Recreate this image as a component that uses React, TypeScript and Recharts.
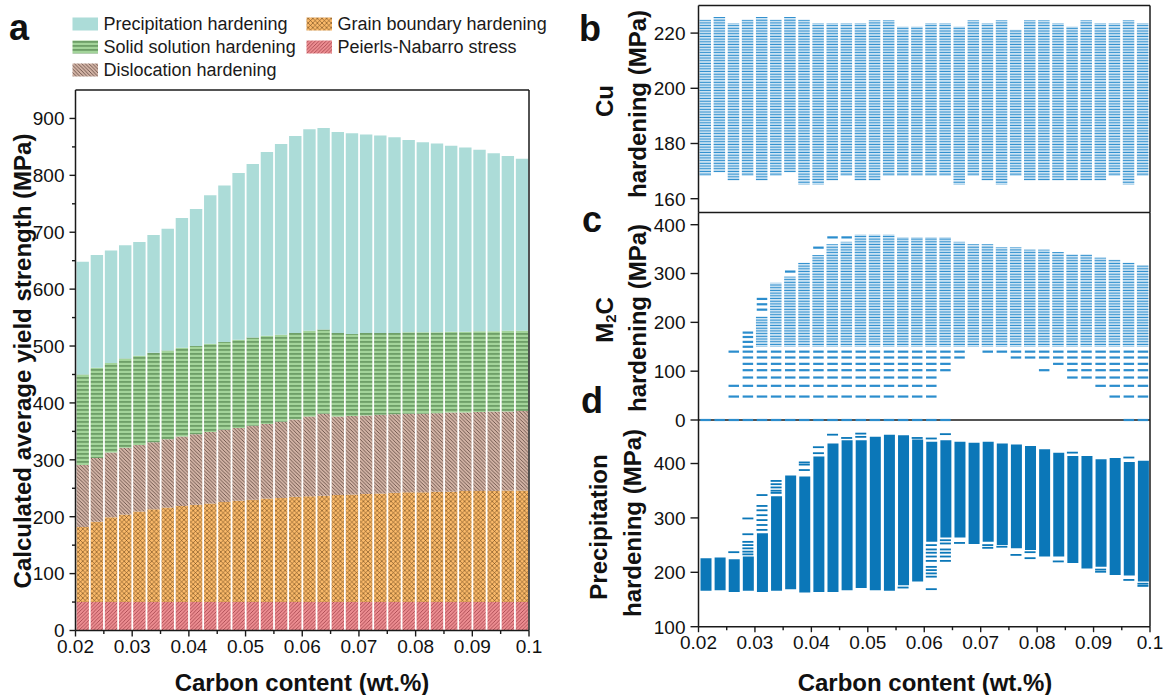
import React from 'react';
import {
  BarChart,
  Bar,
  ComposedChart,
  Scatter,
  XAxis,
  YAxis,
  ReferenceLine,
} from 'recharts';

const FONT = "'Liberation Sans', Arial, Helvetica, sans-serif";
const AXIS = '#1a1a1a';

// bar centres, one bar per 0.0025 wt.% C
const CARBON = [
  0.02125, 0.02375, 0.02625, 0.02875, 0.03125, 0.03375, 0.03625, 0.03875,
  0.04125, 0.04375, 0.04625, 0.04875, 0.05125, 0.05375, 0.05625, 0.05875,
  0.06125, 0.06375, 0.06625, 0.06875, 0.07125, 0.07375, 0.07625, 0.07875,
  0.08125, 0.08375, 0.08625, 0.08875, 0.09125, 0.09375, 0.09625, 0.09875,
];
const X_MAJOR = [0.02, 0.03, 0.04, 0.05, 0.06, 0.07, 0.08, 0.09, 0.1];
const X_MINOR = [0.025, 0.035, 0.045, 0.055, 0.065, 0.075, 0.085, 0.095];

// (a) strengthening contributions, MPa
const PEIERLS = [
  50, 50, 50, 50, 50, 50, 50, 50, 50, 50, 50, 50, 50, 50, 50, 50,
  50, 50, 50, 50, 50, 50, 50, 50, 50, 50, 50, 50, 50, 50, 50, 50,
];
const GRAIN = [
  132, 141, 149, 154, 159, 163, 166, 169, 171, 173, 176, 178, 180, 182, 183, 185,
  186, 187, 188, 189, 190, 191, 192, 193, 193, 194, 194, 195, 195, 195, 196, 196,
];
const DISLOC = [
  109, 112, 114, 117, 117, 118, 120, 122, 124, 126, 127, 128, 130, 131, 134, 136,
  140, 144, 138, 138, 138, 138, 138, 138, 138, 138, 139, 138, 139, 140, 139, 140,
];
const SOLID = [
  159, 159, 157, 157, 157, 157, 156, 156, 155, 155, 154, 155, 155, 155, 153, 152,
  151, 148, 147, 144, 145, 144, 143, 143, 143, 142, 142, 142, 142, 141, 142, 141,
];
const PRECIP = [
  198, 198, 198, 199, 200, 207, 214, 228, 241, 261, 275, 293, 305, 323, 335, 346,
  354, 354, 353, 353, 349, 347, 344, 338, 334, 332, 327, 324, 319, 313, 307, 302,
];
const A_Y_MAJOR = [0, 100, 200, 300, 400, 500, 600, 700, 800, 900];
const A_Y_MINOR = [50, 150, 250, 350, 450, 550, 650, 750, 850];

// (b) Cu hardening spread per composition
const CU_LOW = [
  168.2, 169.6, 166.6, 168.2, 166.6, 168.2, 169.6, 165.1, 165.1, 166.6, 168.2, 166.6,
  166.6, 168.2, 168.2, 168.2, 168.2, 168.2, 165.1, 168.2, 166.6, 165.1, 168.2, 166.6,
  166.6, 166.6, 166.6, 166.6, 166.6, 168.2, 165.1, 168.2,
];
const CU_HIGH = [
  224.8, 225.8, 223.6, 224.8, 225.8, 224.8, 225.8, 224.8, 223.6, 223.6, 223.6, 223.6,
  224.7, 224.7, 222.4, 222.4, 223.6, 223.6, 222.4, 224.7, 223.6, 224.7, 221.2, 224.7,
  224.7, 223.6, 222.4, 224.7, 223.6, 223.6, 224.7, 223.6,
];
const B_Y_TICKS = [160, 180, 200, 220];

// (c) M2C hardening: densely sampled band plus isolated levels
const M2C_LOW = [
  null, null, null, null, 150, 150, 150, 150, 150, 150, 150, 150, 150, 150, 150, 150,
  150, 150, 150, 150, 150, 150, 150, 150, 150, 150, 150, 150, 150, 150, 150, 150,
];
const M2C_HIGH = [
  null, null, null, null, 212, 281, 294, 322, 338, 360, 365, 380, 380, 380, 375, 375,
  375, 375, 365, 360, 360, 354, 354, 349, 349, 344, 339, 339, 333, 328, 322, 317,
];
const M2C_SPARSE = [
  [0],
  [0],
  [140, 70, 48, 0],
  [179, 170, 160, 150, 140, 128, 115, 102, 87, 70, 48, 0],
  [248, 237, 226, 140, 128, 115, 102, 87, 70, 48, 0],
  [140, 128, 115, 102, 87, 70, 48, 0],
  [304, 140, 128, 115, 102, 87, 70, 48, 0],
  [140, 128, 115, 102, 87, 70, 48, 0],
  [353, 140, 128, 115, 102, 87, 70, 48, 0],
  [374, 140, 128, 115, 102, 87, 70, 48, 0],
  [374, 140, 128, 115, 102, 87, 70, 48, 0],
  [140, 128, 115, 102, 87, 70, 48, 0],
  [140, 128, 115, 102, 87, 70, 48, 0],
  [140, 128, 115, 102, 87, 70, 48, 0],
  [140, 128, 115, 102, 87, 70, 48, 0],
  [140, 128, 115, 102, 87, 70, 48, 0],
  [140, 128, 115, 102, 87, 70, 48, 0],
  [140, 128, 115, 102, 0],
  [140, 128],
  [],
  [140],
  [140],
  [140, 128],
  [140, 128],
  [140, 128, 102],
  [140, 128, 115],
  [140, 128, 115, 102, 87],
  [140, 128, 115, 102, 87],
  [140, 128, 115, 102, 87, 70],
  [140, 128, 115, 102, 87, 70, 48],
  [140, 128, 115, 102, 87, 70, 48, 0],
  [140, 128, 115, 102, 87, 70, 48, 0],
];
const C_Y_TICKS = [0, 100, 200, 300, 400];

// (d) total precipitation hardening: filled band plus stray values
const PH_LOW = [
  166, 167, 164, 166, 164, 166, 169, 163, 164, 164, 167, 171, 167, 166, 176, 183,
  256, 264, 264, 252, 256, 250, 244, 241, 229, 229, 217, 207, 210, 195, 194, 183,
];
const PH_HIGH = [
  226, 227, 224, 229, 272, 340, 378, 376, 413, 437, 443, 443, 449, 453, 452, 444,
  440, 443, 440, 438, 440, 437, 435, 432, 426, 420, 414, 414, 408, 410, 403, 405,
];
const PH_EXTRA = [
  [],
  [],
  [237],
  [299, 270, 256, 250, 244, 238, 233],
  [342, 322, 314, 305, 296, 287, 278],
  [368, 362, 356, 350, 346],
  [],
  [402, 398, 388],
  [430, 419],
  [453],
  [447],
  [455, 449],
  [],
  [],
  [172],
  [447],
  [446, 250, 242, 236, 229, 221, 210, 204, 198, 192, 169],
  [454, 259, 253, 242, 236, 229, 221],
  [254],
  [],
  [250, 245],
  [247],
  [232],
  [237, 226],
  [],
  [220],
  [420],
  [],
  [205, 201],
  [],
  [411, 186],
  [179, 175],
];
const D_Y_TICKS = [100, 200, 300, 400];

const aRows = CARBON.map((x, i) => ({
  x,
  peierls: PEIERLS[i],
  grain: GRAIN[i],
  disloc: DISLOC[i],
  solid: SOLID[i],
  precip: PRECIP[i],
}));
const bRows = CARBON.map((x, i) => ({ x, range: [CU_LOW[i], CU_HIGH[i]] }));
const cRows = CARBON.map((x, i) => ({
  x,
  range: M2C_LOW[i] == null ? null : [M2C_LOW[i], M2C_HIGH[i]],
}));
const cPoints = CARBON.flatMap((x, i) => M2C_SPARSE[i].map((y) => ({ x, y })));
const dRows = CARBON.map((x, i) => ({ x, range: [PH_LOW[i], PH_HIGH[i]] }));
const dPoints = CARBON.flatMap((x, i) => PH_EXTRA[i].map((y) => ({ x, y })));

const BLUE_DASH = '#2b8dcd';
const BLUE_FILL = '#0b77b8';

// hatch fills shared by the bars and the legend swatches
function Hatches({ prefix }: { prefix: string }) {
  return (
    <defs>
      <pattern id={`${prefix}-ss`} patternUnits="userSpaceOnUse" width={6} height={4}>
        <rect width={6} height={4} fill="#a3d49a" />
        <rect y={1.4} width={6} height={1.1} fill="#4b7c47" />
      </pattern>
      <pattern id={`${prefix}-dis`} patternUnits="userSpaceOnUse" width={3.6} height={3.6}>
        <rect width={3.6} height={3.6} fill="#d2b3a5" />
        <path d="M0,0 L3.6,3.6 M-1,2.6 L1,4.6 M2.6,-1 L4.6,1" stroke="#4a342c" strokeWidth={0.7} />
      </pattern>
      <pattern id={`${prefix}-gb`} patternUnits="userSpaceOnUse" width={4.6} height={4.6}>
        <rect width={4.6} height={4.6} fill="#fbba6a" />
        <path d="M0,0 L4.6,4.6 M4.6,0 L0,4.6" stroke="#6a451c" strokeWidth={0.6} />
      </pattern>
      <pattern id={`${prefix}-pn`} patternUnits="userSpaceOnUse" width={3.6} height={3.6}>
        <rect width={3.6} height={3.6} fill="#ec8d91" />
        <path d="M0,3.6 L3.6,0 M-1,1 L1,-1 M2.6,4.6 L4.6,2.6" stroke="#9a3a43" strokeWidth={0.75} />
      </pattern>
      <pattern id={`${prefix}-stripe`} patternUnits="userSpaceOnUse" width={20} height={2.7}>
        <rect y={0.6} width={20} height={1.4} fill={BLUE_DASH} />
      </pattern>
    </defs>
  );
}

const yTick = (majors: number[], len: number, minorLen: number) => (p: any) => {
  const v = p.payload.value;
  const major = majors.includes(v);
  return (
    <g>
      <line x1={p.x} x2={p.x - (major ? len : minorLen)} y1={p.y} y2={p.y} stroke={AXIS} strokeWidth={1.4} />
      {major && (
        <text x={p.x - len - 5} y={p.y} dy={6.8} textAnchor="end" fontSize={19} fontFamily={FONT} fill="#111">
          {v}
        </text>
      )}
    </g>
  );
};

const xTick = (majors: number[], len: number, minorLen: number) => (p: any) => {
  const v = p.payload.value;
  const major = majors.includes(v);
  return (
    <g>
      <line x1={p.x} x2={p.x} y1={p.y} y2={p.y + (major ? len : minorLen)} stroke={AXIS} strokeWidth={1.4} />
      {major && (
        <text x={p.x} y={p.y + 22} textAnchor="middle" fontSize={19} fontFamily={FONT} fill="#111">
          {String(v)}
        </text>
      )}
    </g>
  );
};

const dash = (w: number, h: number, color: string) => (p: any) => (
  <rect x={p.cx - w / 2} y={p.cy - h / 2} width={w} height={h} fill={color} />
);

const frame = { stroke: AXIS, strokeWidth: 1.5 };

function PanelA() {
  return (
    <BarChart width={545} height={695} data={aRows} margin={{ top: 90, right: 16, bottom: 0, left: 0 }}>
      <Hatches prefix="a" />
      <XAxis
        dataKey="x"
        type="number"
        domain={[0.02, 0.1]}
        allowDataOverflow
        ticks={[...X_MAJOR, ...X_MINOR]}
        interval={0}
        tick={xTick(X_MAJOR, 6, 3.5)}
        tickLine={false}
        tickSize={0}
        tickMargin={0}
        height={64.5}
        axisLine={frame}
      />
      <YAxis
        type="number"
        domain={[0, 950]}
        allowDataOverflow
        ticks={[...A_Y_MAJOR, ...A_Y_MINOR]}
        interval={0}
        tick={yTick(A_Y_MAJOR, 6, 3.5)}
        tickLine={false}
        tickSize={0}
        tickMargin={0}
        width={75.5}
        axisLine={frame}
      />
      <Bar dataKey="peierls" stackId="s" barSize={12.4} fill="url(#a-pn)" isAnimationActive={false} />
      <Bar dataKey="grain" stackId="s" barSize={12.4} fill="url(#a-gb)" isAnimationActive={false} />
      <Bar dataKey="disloc" stackId="s" barSize={12.4} fill="url(#a-dis)" isAnimationActive={false} />
      <Bar dataKey="solid" stackId="s" barSize={12.4} fill="url(#a-ss)" isAnimationActive={false} />
      <Bar dataKey="precip" stackId="s" barSize={12.4} fill="#acdcd8" isAnimationActive={false} />
      <ReferenceLine y={950} {...frame} />
      <ReferenceLine x={0.1} {...frame} />
    </BarChart>
  );
}

function PanelB() {
  return (
    <ComposedChart width={605} height={220} data={bRows} margin={{ top: 5.5, right: 15, bottom: 7.5, left: 0 }}>
      <Hatches prefix="b" />
      <XAxis dataKey="x" type="number" domain={[0.02, 0.1]} allowDataOverflow hide />
      <YAxis
        type="number"
        domain={[155, 230]}
        allowDataOverflow
        ticks={B_Y_TICKS}
        interval={0}
        tick={yTick(B_Y_TICKS, 8, 0)}
        tickLine={false}
        tickSize={0}
        tickMargin={0}
        width={138.5}
        axisLine={frame}
      />
      <Bar dataKey="range" barSize={11.5} fill="url(#b-stripe)" isAnimationActive={false} />
      <ReferenceLine y={230} {...frame} />
      <ReferenceLine y={155} {...frame} />
      <ReferenceLine x={0.1} {...frame} />
    </ComposedChart>
  );
}

function PanelC() {
  return (
    <ComposedChart width={605} height={240} data={cRows} margin={{ top: 12.5, right: 15, bottom: 20, left: 0 }}>
      <Hatches prefix="c" />
      <XAxis dataKey="x" type="number" domain={[0.02, 0.1]} hide />
      <YAxis
        type="number"
        domain={[0, 425]}
        ticks={C_Y_TICKS}
        interval={0}
        tick={yTick(C_Y_TICKS, 8, 0)}
        tickLine={false}
        tickSize={0}
        tickMargin={0}
        width={138.5}
        axisLine={frame}
      />
      <ReferenceLine y={0} {...frame} />
      <ReferenceLine x={0.1} {...frame} />
      <Bar dataKey="range" barSize={11.5} fill="url(#c-stripe)" isAnimationActive={false} />
      <Scatter data={cPoints} dataKey="y" shape={dash(10.5, 2.2, BLUE_DASH)} isAnimationActive={false} />
    </ComposedChart>
  );
}

function PanelD() {
  // the top edge is shared with the zero line of panel c
  return (
    <ComposedChart width={605} height={295} data={dRows} margin={{ top: 20, right: 15, bottom: 0, left: 0 }}>
      <XAxis
        dataKey="x"
        type="number"
        domain={[0.02, 0.1]}
        allowDataOverflow
        ticks={[...X_MAJOR, ...X_MINOR]}
        interval={0}
        tick={xTick(X_MAJOR, 5.5, 3.5)}
        tickLine={false}
        tickSize={0}
        tickMargin={0}
        height={68.3}
        axisLine={frame}
      />
      <YAxis
        type="number"
        domain={[100, 480]}
        allowDataOverflow
        ticks={D_Y_TICKS}
        interval={0}
        tick={yTick(D_Y_TICKS, 8, 0)}
        tickLine={false}
        tickSize={0}
        tickMargin={0}
        width={138.5}
        axisLine={frame}
      />
      <Bar dataKey="range" barSize={11} fill={BLUE_FILL} isAnimationActive={false} />
      <Scatter data={dPoints} dataKey="y" shape={dash(11, 1.8, BLUE_FILL)} isAnimationActive={false} />
      <ReferenceLine x={0.1} {...frame} />
    </ComposedChart>
  );
}

const LEGEND = [
  { label: 'Precipitation hardening', fill: '#acdcd8', x: 72.5, y: 17.5 },
  { label: 'Solid solution hardening', fill: 'url(#lg-ss)', x: 72.5, y: 40.5 },
  { label: 'Dislocation hardening', fill: 'url(#lg-dis)', x: 72.5, y: 63.5 },
  { label: 'Grain boundary hardening', fill: 'url(#lg-gb)', x: 306.5, y: 17.5 },
  { label: 'Peierls-Nabarro stress', fill: 'url(#lg-pn)', x: 306.5, y: 40.5 },
];

const bold = { fontFamily: FONT, fontWeight: 700, fill: '#111' } as const;

function Overlay() {
  const vLabel = (x: number, y: number, text: React.ReactNode) => (
    <text transform={`translate(${x},${y}) rotate(-90)`} textAnchor="middle" fontSize={24} {...bold}>
      {text}
    </text>
  );
  return (
    <svg width={1165} height={695} style={{ position: 'absolute', left: 0, top: 0, pointerEvents: 'none' }}>
      <Hatches prefix="lg" />
      {LEGEND.map((l) => (
        <g key={l.label}>
          <rect x={l.x} y={l.y} width={25.5} height={13} fill={l.fill} />
          <text x={l.x + 31} y={l.y + 12} fontSize={18} fontFamily={FONT} fill="#1a1a1a">
            {l.label}
          </text>
        </g>
      ))}
      <text x={9} y={40} fontSize={36} {...bold}>a</text>
      <text x={579} y={41} fontSize={36} {...bold}>b</text>
      <text x={582} y={232} fontSize={36} {...bold}>c</text>
      <text x={581} y={413} fontSize={36} {...bold}>d</text>
      {vLabel(30.5, 361, 'Calculated average yield strength (MPa)')}
      <text x={302} y={691} textAnchor="middle" fontSize={24} {...bold}>Carbon content (wt.%)</text>
      <text x={925} y={691} textAnchor="middle" fontSize={24} {...bold}>Carbon content (wt.%)</text>
      {vLabel(613, 101, 'Cu')}
      {vLabel(646, 104, 'hardening (MPa)')}
      {vLabel(
        613,
        320,
        <>
          M<tspan fontSize={15} dy={3}>2</tspan>
          <tspan dy={-3}>C</tspan>
        </>,
      )}
      {vLabel(646, 318, 'hardening (MPa)')}
      {vLabel(607, 527, 'Precipitation')}
      {vLabel(641, 523, 'hardening (MPa)')}
    </svg>
  );
}

export default function App() {
  return (
    <div style={{ position: 'absolute', left: 0, top: 0, width: 1165, height: 695, background: '#fff', fontFamily: FONT }}>
      <div style={{ position: 'absolute', left: 0, top: 0 }}>
        <PanelA />
      </div>
      <div style={{ position: 'absolute', left: 560, top: 0 }}>
        <PanelB />
      </div>
      <div style={{ position: 'absolute', left: 560, top: 400 }}>
        <PanelD />
      </div>
      <div style={{ position: 'absolute', left: 560, top: 200 }}>
        <PanelC />
      </div>
      <Overlay />
    </div>
  );
}
